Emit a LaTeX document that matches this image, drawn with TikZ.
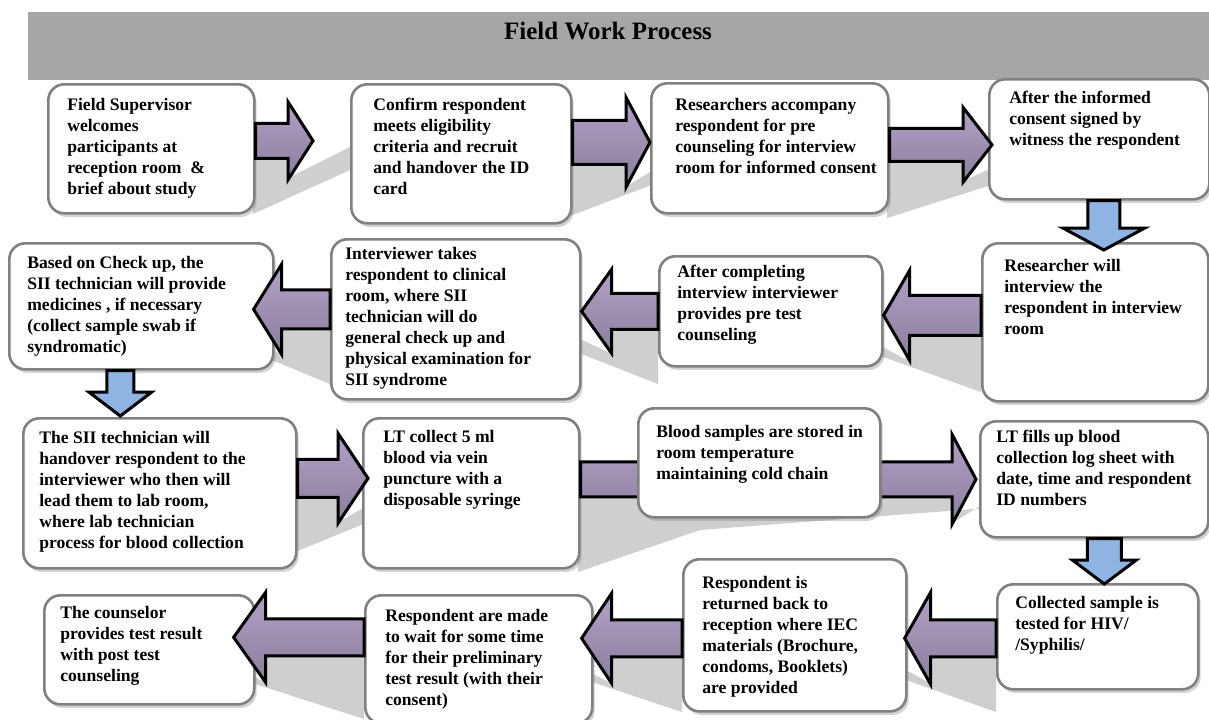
\documentclass[tikz,border=0pt]{standalone}
\usepackage{fontspec}
\setmainfont{Liberation Serif}
\usetikzlibrary{calc,shadows}

\definecolor{bargray}{HTML}{A6A6A6}
\definecolor{boxgray}{HTML}{808080}
\definecolor{arrowpurple}{HTML}{B2A1C7}
\definecolor{arrowblue}{HTML}{8DB4E2}

\newdimen\pxu \pxu=0.5pt
\newcommand{\boxfont}{\fontsize{8.8}{10.5}\selectfont\bfseries}

% block arrow from tail to tip: [style]{tail}{tip}{shaft half}{head half}{head length}
\newcommand{\blockarrow}[6][purplearrow]{%
  \coordinate (hb) at ($(#3)!#6!(#2)$);
  \filldraw[#1] ($(#2)!#4!90:(#3)$) -- ($(hb)!#4!-90:(#2)$) -- ($(hb)!#5!-90:(#2)$)
    -- (#3) -- ($(hb)!#5!90:(#2)$) -- ($(hb)!#4!90:(#2)$) -- ($(#2)!#4!-90:(#3)$) -- cycle;}

\tikzset{
  stepbox/.style n args={4}{draw=boxgray, line width=1.3pt, fill=white, rounded corners=8pt,
    drop shadow={shadow xshift=1.2pt, shadow yshift=-1.8pt, opacity=0.35},
    anchor=north west, inner sep=0pt,
    execute at begin node={\begin{minipage}[t][#2\pxu][t]{#1\pxu}\vspace*{#4\pxu}%
      \leftskip=#3\pxu\rightskip=-30pt plus 1fil\hbadness=10000\boxfont\strut},
    execute at end node={\end{minipage}}},
  purplearrow/.style={draw=black, line width=1.5pt, line join=miter,
    top color=arrowpurple, middle color=arrowpurple, bottom color=arrowpurple!78!black},
  bluearrow/.style={draw=black, line width=1.5pt, line join=miter, fill=arrowblue},
  castshadow/.style={fill=black!19},
}

\begin{document}
\begin{tikzpicture}[x=0.5pt, y=-0.5pt]
  \useasboundingbox (0,0) rectangle (1209,719);
  \fill[white] (0,0) rectangle (1209,719);

  % title bar
  \fill[bargray] (28,12) rectangle (1209,80);
  \node[font=\fontsize{12.5}{14}\selectfont\bfseries] (title) at (608,31) {Field Work Process};

  % shadows cast by the arrows
  \fill[castshadow] (253,157) -- (288,157) -- (288,178) -- (350,147) -- (350,170) -- (253,214) -- cycle;
  \fill[castshadow] (570,163) -- (627,163) -- (627,186) -- (688,149) -- (688,171) -- (570,216) -- cycle;
  \fill[castshadow] (887,160) -- (963,160) -- (963,181) -- (1029,151) -- (1029,173) -- (887,218) -- cycle;
  \fill[castshadow] (844,326) -- (905,359) -- (905,334) -- (981,334) -- (981,392) -- (844,343) -- cycle;
  \fill[castshadow] (543,322) -- (608,352) -- (608,328) -- (658,328) -- (658,384) -- (543,339) -- cycle;
  \fill[castshadow] (216,320) -- (279,353) -- (279,327) -- (330,327) -- (330,384) -- (216,337) -- cycle;
  \fill[castshadow] (295,496) -- (338,496) -- (338,522) -- (405,485) -- (405,507) -- (295,552) -- cycle;
  \fill[castshadow] (578,495) -- (952,495) -- (952,523) -- (1013,486) -- (1013,506) -- (700,530) -- (578,572) -- cycle;
  \fill[castshadow] (867,649) -- (928,682) -- (928,655) -- (996,655) -- (996,712) -- (867,666) -- cycle;
  \fill[castshadow] (544,649) -- (609,682) -- (609,655) -- (682,655) -- (682,712) -- (544,666) -- cycle;
  \fill[castshadow] (196,648) -- (263,681) -- (263,654) -- (364,654) -- (364,719) -- (196,665) -- cycle;

  % row 1
  \node[stepbox={206}{129}{19}{11.3}] (b1) at (47,83)
    {Field Supervisor\\welcomes\\participants at\\reception room \ \&\\brief about study};
  \node[stepbox={220}{139}{22}{11.3}] (b2) at (350,83)
    {Confirm respondent\\meets eligibility\\criteria and recruit\\and handover the ID\\card};
  \node[stepbox={237}{130}{24}{12}] (b3) at (650,82)
    {\fontsize{8.8}{9.3}\selectfont Researchers accompany\\respondent for pre\\counseling for interview\\room for informed consent};
  \node[stepbox={220}{120}{20}{9.3}] (b4) at (988,78)
    {After the informed\\consent signed by\\witness the respondent};

  % row 2
  \node[stepbox={226}{158}{22}{13.3}] (b5) at (981,242)
    {Researcher will\\interview the\\respondent in interview\\room};
  \node[stepbox={223}{110}{18}{6.3}] (b6) at (658,255)
    {After completing\\interview interviewer\\provides pre test\\counseling};
  \node[stepbox={249}{160}{14}{5.3}] (b7) at (330,238)
    {Interviewer takes\\respondent to clinical\\room, where SII\\technician will do\\general check up and\\physical examination for\\SII syndrome};
  \node[stepbox={264}{126}{18}{10.3}] (b8) at (8,242)
    {Based on Check up, the\\SII technician will provide\\medicines , if necessary\\(collect sample swab if\\syndromatic)};

  % row 3
  \node[stepbox={273}{150}{16}{10.3}] (b9) at (22,417)
    {The SII technician will\\handover respondent to the\\interviewer who then will\\lead them to lab room,\\where lab technician\\process for blood collection};
  \node[stepbox={216}{150}{20}{9.3}] (b10) at (362,417)
    {LT collect 5 ml\\blood via vein\\puncture with a\\disposable syringe};
  \node[stepbox={228}{116}{16}{6.3}] (b12) at (979,420)
    {LT fills up blood\\collection log sheet with\\date, time and respondent\\ID numbers};

  % row 4
  \node[stepbox={201}{105}{18}{9.3}] (b13) at (996,583)
    {Collected sample is\\tested for HIV/\\/Syphilis/};
  \node[stepbox={223}{152}{19}{14}] (b14) at (682,558)
    {\fontsize{8.8}{10}\selectfont Respondent is\\returned back to\\reception where IEC\\materials (Brochure,\\condoms, Booklets)\\are provided};
  \node[stepbox={227}{128}{20}{11}] (b15) at (364,594)
    {\fontsize{8.8}{9.5}\selectfont Respondent are made\\to wait for some time\\for their preliminary\\test result (with their\\consent)};
  \node[stepbox={210}{109}{16}{8.3}] (b16) at (43,594)
    {\fontsize{8.8}{10}\selectfont The counselor\\provides test result\\with post test\\counseling};

  % arrows, row 1
  \coordinate (a1s) at ([yshift=4pt]b1.east);
  \path (a1s -| b2.west) ++(-18.5pt,0) coordinate (a1e);
  \blockarrow{a1s}{a1e}{8.75pt}{19.5pt}{12.5pt}
  \coordinate (a2s) at ([yshift=5.75pt]b2.east);
  \path (a2s -| b3.west) coordinate (a2e);
  \blockarrow{a2s}{a2e}{11pt}{22.5pt}{12pt}
  \coordinate (a3s) at ([yshift=1.75pt]b3.east);
  \path (a3s -| b4.west) ++(2pt,0) coordinate (a3e);
  \blockarrow{a3s}{a3e}{8.25pt}{18.75pt}{14.5pt}
  \coordinate (a4s) at ([xshift=2.25pt]b4.south);
  \path (a4s |- b5.north) ++(0,-4pt) coordinate (a4e);
  \blockarrow[bluearrow]{a4s}{a4e}{8pt}{20.5pt}{11pt}

  % arrows, row 2
  \coordinate (a5s) at ([yshift=3.5pt]b5.west);
  \path (a5s -| b6.east) coordinate (a5e);
  \blockarrow{a5s}{a5e}{10pt}{22.5pt}{13pt}
  \coordinate (a6s) at (b6.west);
  \path (a6s -| b7.east) coordinate (a6e);
  \blockarrow{a6s}{a6e}{9pt}{21pt}{15pt}
  \coordinate (a7s) at ([yshift=5pt]b7.west);
  \path (a7s -| b8.east) ++(-10.5pt,0) coordinate (a7e);
  \blockarrow{a7s}{a7e}{9.75pt}{22.5pt}{14pt}
  \coordinate (a8s) at ([xshift=-10.5pt]b8.south);
  \path (a8s |- b9.north) ++(0,0.5pt) coordinate (a8e);
  \blockarrow[bluearrow]{a8s}{a8e}{6.75pt}{15.75pt}{12pt}

  % arrows, row 3
  \coordinate (a9s) at ([yshift=7.5pt]b9.east);
  \path (a9s -| b10.west) ++(3pt,0) coordinate (a9e);
  \blockarrow{a9s}{a9e}{9.5pt}{22.5pt}{15pt}
  \coordinate (a10s) at ([yshift=7pt]b10.east);
  \path (a10s -| b12.west) ++(-1.5pt,0) coordinate (a10e);
  \blockarrow{a10s}{a10e}{8.75pt}{22.5pt}{12pt}
  \node[stepbox={242}{109}{18}{14.3}] (b11) at (637,407)
    {\fontsize{8.8}{9}\selectfont Blood samples are stored in\\room temperature\\maintaining cold chain};
  \coordinate (a12s) at ([xshift=5pt]b12.south);
  \path (a12s |- b13.north) ++(0,-0.5pt) coordinate (a12e);
  \blockarrow[bluearrow]{a12s}{a12e}{8.5pt}{16pt}{12pt}

  % arrows, row 4
  \coordinate (a13s) at ([yshift=-0.75pt]b13.west);
  \path (a13s -| b14.east) ++(-1.5pt,0) coordinate (a13e);
  \blockarrow{a13s}{a13e}{9.25pt}{23pt}{13pt}
  \coordinate (a14s) at ([yshift=-1.5pt]b14.west);
  \path (a14s -| b15.east) ++(-6pt,0) coordinate (a14e);
  \blockarrow{a14s}{a14e}{9.25pt}{22.5pt}{15pt}
  \coordinate (a15s) at ([yshift=11pt]b15.west);
  \path (a15s -| b16.east) ++(-11pt,0) coordinate (a15e);
  \blockarrow{a15s}{a15e}{9.25pt}{22.5pt}{16pt}
\end{tikzpicture}
\end{document}
